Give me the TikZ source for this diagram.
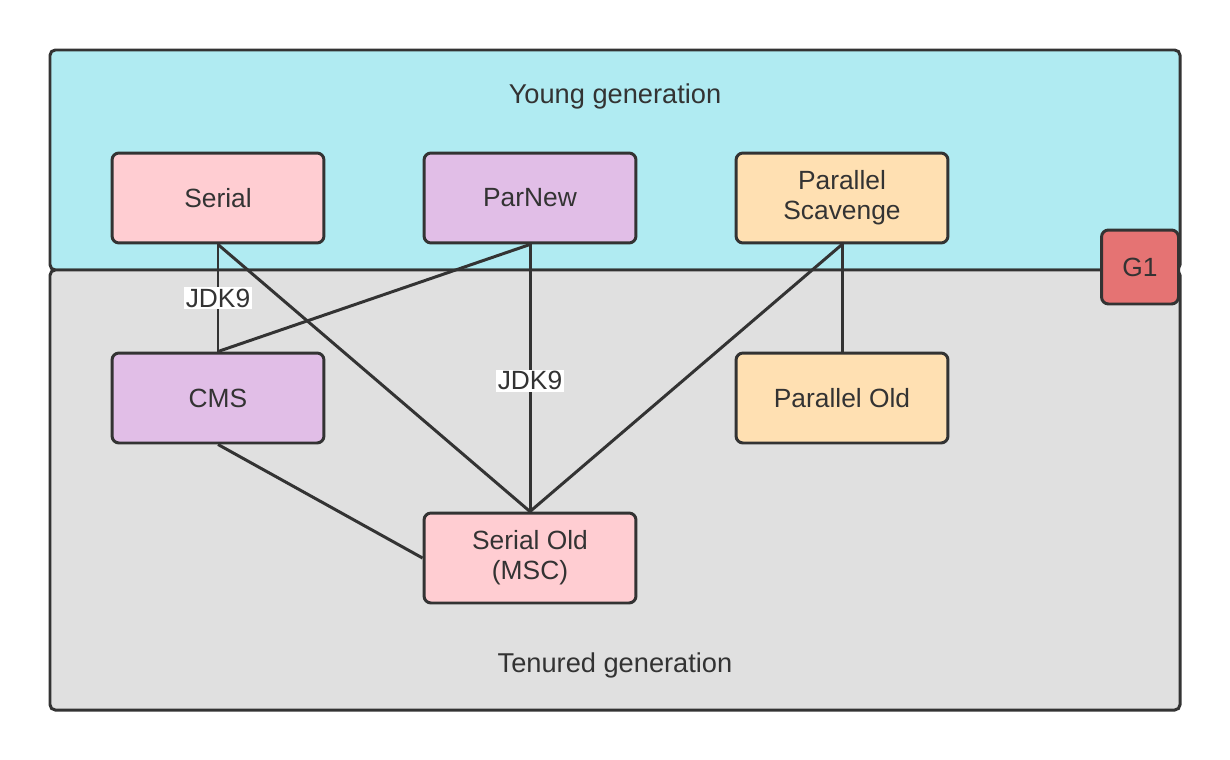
\documentclass[tikz,border=0pt]{standalone}
\usepackage{fontspec}
\setmainfont{Liberation Sans}
\usetikzlibrary{positioning}
\definecolor{youngcyan}{RGB}{176, 235, 242}
\definecolor{tenuredgray}{RGB}{224, 224, 224}
\definecolor{serialpink}{RGB}{255, 205, 210}
\definecolor{cmspurple}{RGB}{225, 190, 231}
\definecolor{parorange}{RGB}{255, 224, 178}
\definecolor{gonered}{RGB}{229, 115, 115}
\definecolor{linegray}{RGB}{51, 51, 51}

\begin{document}
\begin{tikzpicture}[x=0.02cm, y=-0.02cm,
    region/.style={draw=linegray, line width=1.7pt, rounded corners=3pt},
    gcbox/.style={draw=linegray, line width=1.7pt, rounded corners=4pt, minimum width=4.24cm, minimum height=1.8cm, align=center, text=linegray, font=\fontsize{15}{17}\selectfont},
    link/.style={draw=linegray, line width=1.7pt},
    jdk/.style={fill=white, inner sep=1pt, text=linegray, font=\fontsize{15}{17}\selectfont}]
    \useasboundingbox (0,0) rectangle (1230,760);

    % the two generations
    \draw[region, fill=youngcyan] (50,50) rectangle (1180,270);
    \draw[region, fill=tenuredgray] (50,270) rectangle (1180,710);
    \node[text=linegray, font=\fontsize{15.5}{17}\selectfont] (younglabel) at (615,96) {Young generation};
    \node[text=linegray, font=\fontsize{15.5}{17}\selectfont] (tenuredlabel) at (615,665) {Tenured generation};

    % collectors
    \node[gcbox, fill=serialpink] (serial) at (218,198) {Serial};
    \node[gcbox, fill=cmspurple] (parnew) at (530,198) {ParNew};
    \node[gcbox, fill=parorange] (parscav) at (842,198) {Parallel\\Scavenge};
    \node[gcbox, fill=cmspurple] (cms) at (218,398) {CMS};
    \node[gcbox, fill=parorange] (parold) at (842,398) {Parallel Old};
    \node[gcbox, fill=serialpink] (serialold) at (530,558) {Serial Old\\(MSC)};
    \node[gcbox, fill=gonered, minimum width=1.54cm, minimum height=1.48cm] (gone) at (1140,267) {G1};

    % combinations
    \draw[link] (serial.south) -- node[jdk] {JDK9} (cms.north);
    \draw[link] (serial.south) -- (serialold.north);
    \draw[link] (parnew.south) -- (cms.north);
    \draw[link] (parnew.south) -- node[jdk, pos=0.51] {JDK9} (serialold.north);
    \draw[link] (parscav.south) -- (serialold.north);
    \draw[link] (parscav.south) -- (parold.north);
    \draw[link] (cms.south) -- (serialold.west);
\end{tikzpicture}
\end{document}
